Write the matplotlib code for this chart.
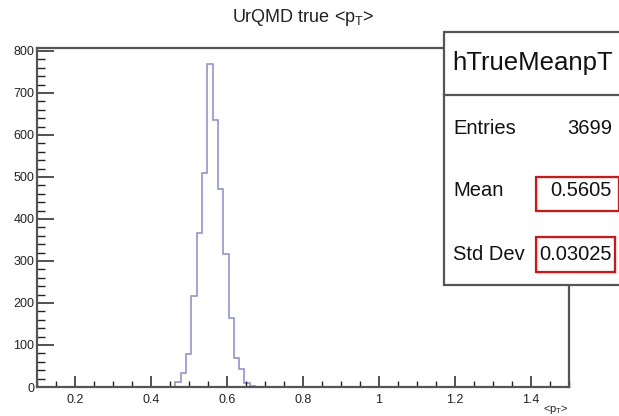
import numpy as np
import matplotlib
matplotlib.use("Agg")
import matplotlib.pyplot as plt
from matplotlib.patches import Rectangle
from matplotlib.ticker import MultipleLocator

plt.rcParams['font.family'] = ['Liberation Sans', 'DejaVu Sans']
plt.rcParams['mathtext.fontset'] = 'custom'
plt.rcParams['mathtext.rm'] = 'Liberation Sans'

# ---- data ----
x_min, x_max, n_bins = 0.1, 1.5, 100
first_bin = 26
counts_nonzero = [13, 33, 79, 217, 367, 509, 770, 636, 471, 317, 164, 68, 42, 10, 3]
hist_name = "hTrueMeanpT"
title = "UrQMD true <p$_\\mathregular{T}$>"
xlabel = "<p$_\\mathregular{T}$>"
stat_labels = ["Entries", "Mean", "Std Dev"]
stat_values = ["3699", "0.5605", "0.03025"]

edges = np.linspace(x_min, x_max, n_bins + 1)
counts = np.zeros(n_bins)
counts[first_bin:first_bin + len(counts_nonzero)] = counts_nonzero

W, H = 619, 416
fig = plt.figure(figsize=(W / 100, H / 100), dpi=100)
ax = fig.add_axes([37 / W, 1 - 387 / H, (569 - 37) / W, (387 - 48) / H])

ax.stairs(counts, edges, color='#8a8ad2', lw=1.1)
ax.set_xlim(x_min, x_max)
ax.set_ylim(0, 807)

ax.xaxis.set_major_locator(MultipleLocator(0.2))
ax.xaxis.set_minor_locator(MultipleLocator(0.05))
ax.yaxis.set_major_locator(MultipleLocator(100))
ax.yaxis.set_minor_locator(MultipleLocator(20))
ax.set_xticks(np.arange(0.2, 1.41, 0.2))
ax.set_xticklabels(["0.2", "0.4", "0.6", "0.8", "1", "1.2", "1.4"])
ax.tick_params(axis='both', which='both', direction='in', color='#222222', labelsize=9, labelcolor='#222222')
ax.tick_params(axis='y', which='major', length=12, width=1.1, pad=2)
ax.tick_params(axis='y', which='minor', length=6, width=1.0)
ax.tick_params(axis='x', which='major', length=8, width=1.1, pad=5)
ax.tick_params(axis='x', which='minor', length=4, width=1.0)
for s in ax.spines.values():
    s.set_color('#555555')
    s.set_linewidth(1.6)

fig.text(303 / W, 1 - 18 / H, title, ha='center', va='center', fontsize=13, color='#222222')
fig.text(556 / W, 1 - 409 / H, xlabel, ha='center', va='center', fontsize=8, color='#222222')

# stats box
box = Rectangle((444 / W, 1 - 285 / H), (W + 5 - 444) / W, (285 - 32) / H, transform=fig.transFigure,
                facecolor='white', edgecolor='#555555', lw=1.6, zorder=5)
fig.patches.append(box)
fig.add_artist(plt.Line2D([444 / W, 1], [1 - 95 / H, 1 - 95 / H], transform=fig.transFigure,
                          color='#555555', lw=1.6, zorder=6))
fig.text(452 / W, 1 - 63 / H, hist_name, ha='left', va='center', fontsize=18.5, color='#111111', zorder=7)
ys = [128, 191, 255]
for lab, val, y in zip(stat_labels, stat_values, ys):
    fig.text(453 / W, 1 - y / H, lab, ha='left', va='center', fontsize=14.5, color='#111111', zorder=7)
    fig.text(612 / W, 1 - y / H, val, ha='right', va='center', fontsize=14.5, color='#111111', zorder=7)

for (x0, x1, y0, y1) in [(536, 619, 177, 211), (536, 615, 237, 272)]:
    fig.patches.append(Rectangle((x0 / W, 1 - y1 / H), (x1 - x0) / W, (y1 - y0) / H,
                                 transform=fig.transFigure, facecolor='none', edgecolor='#e01010',
                                 lw=1.6, zorder=8))

fig.savefig("out.png", dpi=100)
